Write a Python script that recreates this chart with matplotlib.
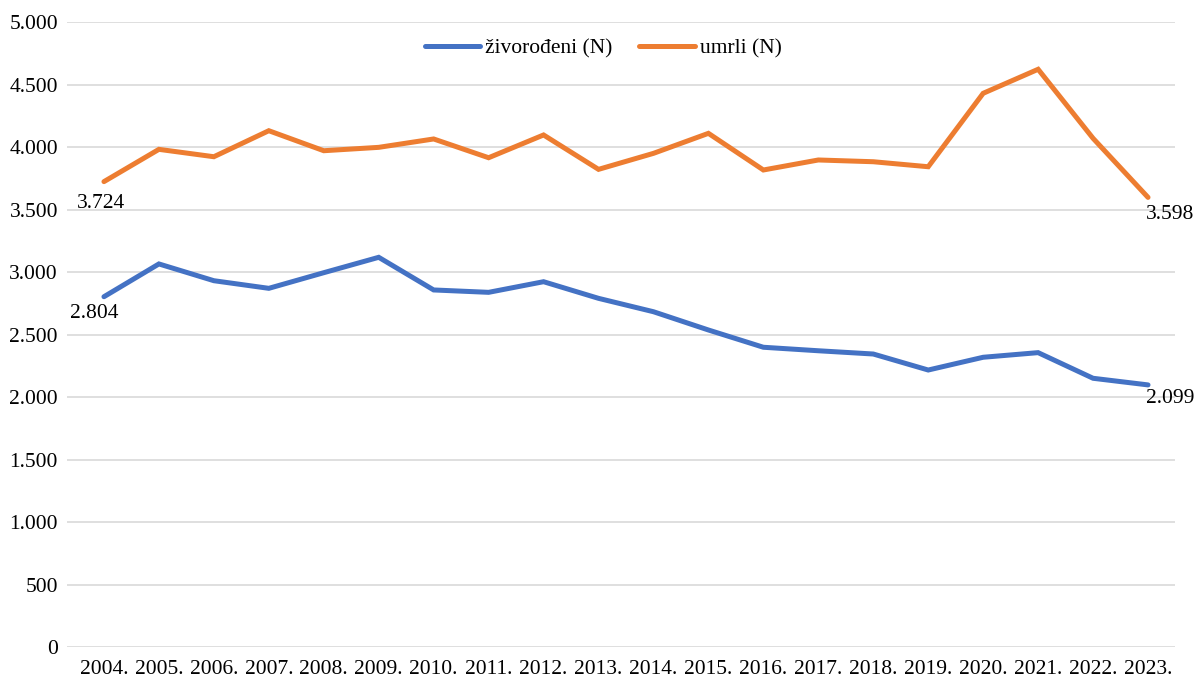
import matplotlib
matplotlib.use("Agg")
import matplotlib.pyplot as plt
from matplotlib.ticker import FuncFormatter

years = [f"{y}." for y in range(2004, 2024)]
zivorodeni = [2804, 3066, 2932, 2871, 2996, 3119, 2858, 2839, 2924, 2791,
              2684, 2538, 2400, 2372, 2346, 2218, 2320, 2357, 2152, 2099]
umrli = [3724, 3982, 3923, 4131, 3971, 3998, 4065, 3915, 4097, 3822,
         3950, 4110, 3817, 3897, 3883, 3843, 4430, 4622, 4070, 3598]

plt.rcParams['font.family'] = ['Liberation Serif', 'DejaVu Serif']
fs = 15.5


def dots(v):
    return f"{int(v):,}".replace(',', '.')


fig = plt.figure(figsize=(11.96, 6.81), dpi=100)
ax = fig.add_axes([0.056, 0.0492, 0.9264, 0.9185])

x = list(range(len(years)))
blue = '#4472C4'
orange = '#ED7D31'
ax.plot(x, zivorodeni, color=blue, lw=3.6, solid_capstyle='round',
        solid_joinstyle='miter', label='živorođeni (N)', zorder=3)
ax.plot(x, umrli, color=orange, lw=3.6, solid_capstyle='round',
        solid_joinstyle='miter', label='umrli (N)', zorder=3)

ax.set_ylim(0, 5000)
ax.set_yticks(range(0, 5001, 500))
ax.yaxis.set_major_formatter(FuncFormatter(lambda v, p: dots(v)))
ax.set_xlim(-0.673, 19.49)
ax.set_xticks(x)
ax.set_xticklabels(years)
ax.tick_params(axis='both', length=0, labelsize=fs, colors='black')
ax.tick_params(axis='y', pad=6.5)
ax.tick_params(axis='x', pad=9)
ax.grid(axis='y', color='#D9D9D9', lw=1.2)
ax.set_axisbelow(True)
for s in ax.spines.values():
    s.set_visible(False)

# data labels at first and last points
ax.annotate(dots(umrli[0]), (x[0], umrli[0]), xytext=(-3, -22),
            textcoords='offset pixels', ha='center', va='center', fontsize=fs)
ax.annotate(dots(zivorodeni[0]), (x[0], zivorodeni[0]), xytext=(-10, -17),
            textcoords='offset pixels', ha='center', va='center', fontsize=fs)
ax.annotate(dots(umrli[-1]), (x[-1], umrli[-1]), xytext=(-2, -17),
            textcoords='offset pixels', ha='left', va='center', fontsize=fs)
ax.annotate(dots(zivorodeni[-1]), (x[-1], zivorodeni[-1]), xytext=(-2, -14),
            textcoords='offset pixels', ha='left', va='center', fontsize=fs)

ax.legend(loc='center', bbox_to_anchor=(0.484, 0.958), ncol=2, frameon=False,
          fontsize=fs, handlelength=2.56, handletextpad=0.23, columnspacing=1.25)

fig.savefig("out.png", dpi=100)
